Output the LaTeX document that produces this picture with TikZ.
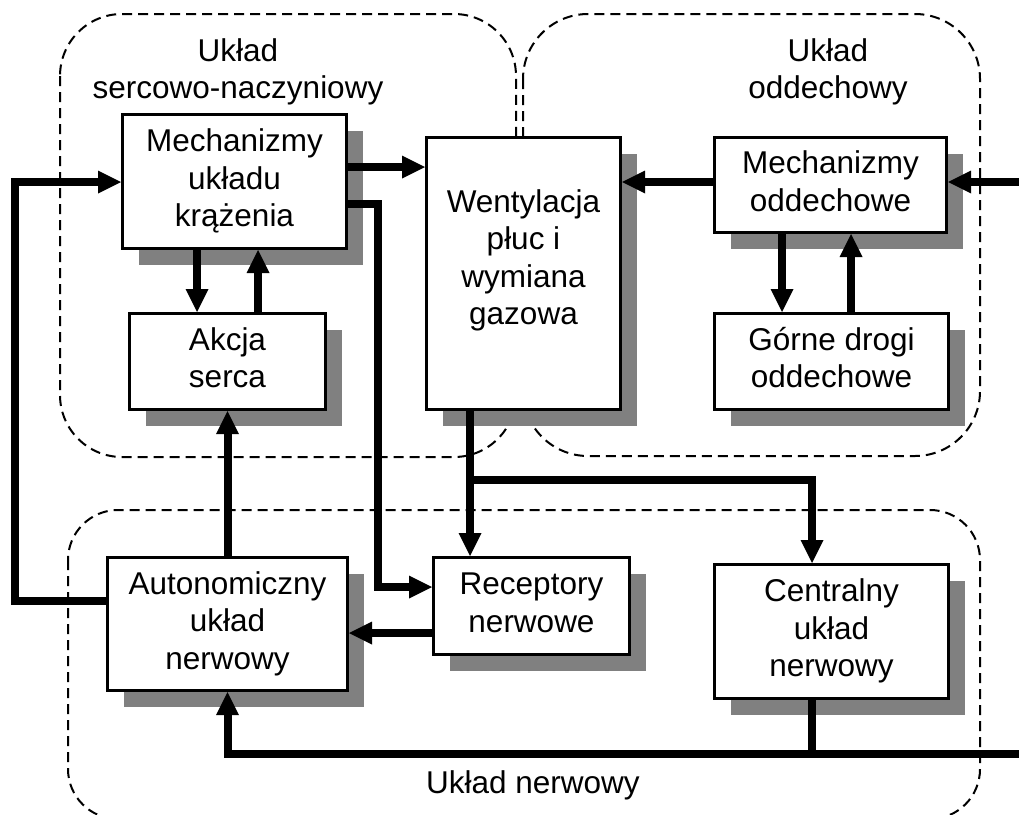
\documentclass[tikz,border=0pt]{standalone}
\usepackage{fontspec}
\setmainfont{Liberation Sans}
\usetikzlibrary{arrows.meta,shadows}
\definecolor{shade}{HTML}{808080}

\begin{document}
\begin{tikzpicture}[x=1pt,y=-1pt,
  txt/.style={font=\fontsize{31.5}{37.5}\selectfont, align=center, inner sep=0pt},
  block/.style={txt, draw, line width=3pt, fill=white,
    general shadow={fill=shade, shadow xshift=16pt, shadow yshift=-16pt}},
  frame/.style={draw, line width=2pt, dash pattern=on 10pt off 6pt},
  link/.style={line width=8pt},
  arr/.style={link, -{Triangle[length=23pt,width=23pt,line width=0pt]}},
]
\useasboundingbox (0,0) rectangle (1019,814);

% subsystem outlines (the nervous one runs past the lower margin)
\draw[frame, rounded corners=62pt] (60,14) rectangle (516,457);
\draw[frame, rounded corners=65pt] (523,14) rectangle (980,456);
\draw[frame, rounded corners=50pt] (68,510) rectangle (980,819);

% subsystem titles
\node[txt] (tcv) at (238,72.25) {\strut Układ\\sercowo-naczyniowy\strut};
\node[txt] (trs) at (828,72.25) {\strut Układ\\oddechowy\strut};
\node[txt, anchor=base] (tnv) at (533,793) {Układ nerwowy};

% blocks
\node[block, minimum width=224pt, minimum height=134pt] (mk) at (234.5,181.5)
  {\strut Mechanizmy\\układu\\krążenia\strut};
\node[block, minimum width=196pt, minimum height=96pt] (as) at (227.5,361.5)
  {\strut Akcja\\serca\strut};
\node[block, minimum width=194pt, minimum height=272pt] (wg) at (523.5,273.5) {};
\node[txt] (wgt) at (523.5,260.75)
  {\strut Wentylacja\\płuc i\\wymiana\\gazowa\strut};
\node[block, minimum width=232pt, minimum height=95pt] (mo) at (830.5,185)
  {\strut Mechanizmy\\oddechowe\strut};
\node[block, minimum width=234pt, minimum height=96pt] (gd) at (831.5,361.5)
  {\strut Górne drogi\\oddechowe\strut};
\node[block, minimum width=196pt, minimum height=97pt] (rn) at (531.5,606)
  {\strut Receptory\\nerwowe\strut};
\node[block, minimum width=234pt, minimum height=134pt] (cn) at (831.5,631.5)
  {\strut Centralny\\układ\\nerwowy\strut};
\node[block, minimum width=240pt, minimum height=133pt] (au) at (227.5,624)
  {\strut Autonomiczny\\układ\\nerwowy\strut};

% free ends at the right margin
\coordinate (inR) at (1019,182);
\coordinate (inB) at (1019,754);

% connectors
\draw[arr] (mk.east |- 0,167) -- (wg.west |- 0,167);
\draw[arr] (mk.east |- 0,204) -- (378,204) |- (rn.west |- 0,587);
\draw[arr] (mo.west |- 0,182) -- (wg.east |- 0,182);
\draw[arr] (inR) -- (mo.east |- inR);
\draw[arr] (mk.south -| 197,0) -- (as.north -| 197,0);
\draw[arr] (as.north -| 258,0) -- (mk.south -| 258,0);
\draw[arr] (au.north) -- (as.south);
\draw[arr] (au.west |- 0,601) -- (15,601) |- (mk.west |- 0,182);
\draw[arr] (rn.west |- 0,633) -- (au.east |- 0,633);
\draw[arr] (wg.south -| 470,0) -- (rn.north -| 470,0);
\draw[arr] (470,480) -| (cn.north -| 812,0);
\draw[arr] (inB) -| (au.south);
\draw[link] (cn.south -| 812,0) -- (812,754);
\draw[arr] (mo.south -| 782,0) -- (gd.north -| 782,0);
\draw[arr] (gd.north -| 851,0) -- (mo.south -| 851,0);
\end{tikzpicture}
\end{document}
